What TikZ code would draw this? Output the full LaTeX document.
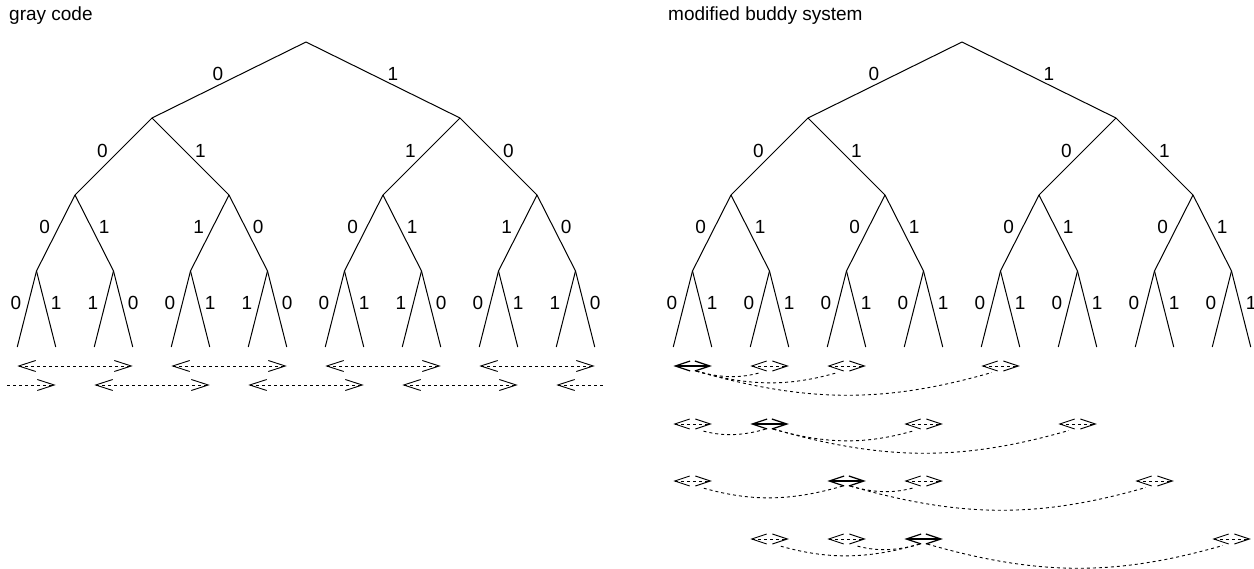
\documentclass[tikz,border=0pt]{standalone}
\usepackage{fontspec}
\setmainfont{Liberation Sans}
\usetikzlibrary{arrows.meta}

\begin{document}
\begin{tikzpicture}[x=1pt, y=-1pt,
    edge/.style={line width=1pt},
    lab/.style={font=\fontsize{19}{22}\selectfont, inner sep=0pt},
    lft/.style={lab, xshift=-11pt, yshift=6pt},
    rgt/.style={lab, xshift=10pt, yshift=6pt},
    title/.style={font=\fontsize{19}{22}\selectfont, anchor=base west, inner sep=0pt},
    hop/.style={line width=0.9pt, dash pattern=on 3pt off 3pt,
      {Straight Barb[length=17pt,width=11pt]}-{Straight Barb[length=17pt,width=11pt]}},
    hopin/.style={line width=0.9pt, dash pattern=on 3pt off 3pt,
      -{Straight Barb[length=17pt,width=11pt]}},
    hopout/.style={line width=0.9pt, dash pattern=on 3pt off 3pt,
      {Straight Barb[length=17pt,width=11pt]}-},
    pair/.style={line width=0.9pt, dash pattern=on 3pt off 3pt,
      {Straight Barb[length=15pt,width=10pt]}-{Straight Barb[length=15pt,width=10pt]}},
    mine/.style={line width=1.2pt,
      {Straight Barb[length=15pt,width=10pt]}-{Straight Barb[length=15pt,width=10pt]}},
    link/.style={line width=0.9pt, dash pattern=on 3pt off 3pt}
  ]
  \useasboundingbox (0,0) rectangle (1254,569);

  \node[title] (gtitle) at (9,21) {gray code};
  \node[title] (btitle) at (668,21) {modified buddy system};

  % tree points
  \foreach \t/\rx in {g/306, b/962} {
    \coordinate (\t-0-0) at (\rx,42);
    \foreach \lv/\y in {1/118, 2/195, 3/271, 4/347} {
      \pgfmathtruncatemacro\n{2^\lv-1}
      \foreach \i in {0,...,\n}
        \coordinate (\t-\lv-\i) at ({\rx-308+(\i+0.5)*616/2^\lv},\y);
    }
  }

  % edges with their bits
  \foreach \t in {g,b} {
    \foreach \lv in {1,...,4} {
      \pgfmathtruncatemacro\up{\lv-1}
      \pgfmathtruncatemacro\n{2^\lv-1}
      \foreach \i in {0,...,\n} {
        \pgfmathtruncatemacro\p{div(\i,2)}
        \if g\t \pgfmathtruncatemacro\bit{mod(div(\i+1,2),2)}
        \else \pgfmathtruncatemacro\bit{mod(\i,2)}\fi
        \ifodd\i \def\where{rgt}\else\def\where{lft}\fi
        \draw[edge] (\t-\up-\p) -- node[\where] {\bit} (\t-\lv-\i);
      }
    }
  }

  % gray code neighbours
  \coordinate (grow1) at (0,366);
  \coordinate (grow2) at (0,385);
  \coordinate (gwrapL) at (7,385);
  \coordinate (gwrapR) at (605,385);
  \foreach \k in {0,4,8,12} {
    \pgfmathtruncatemacro\e{\k+3}
    \draw[hop] (g-4-\k |- grow1) -- (g-4-\e |- grow1);
  }
  \foreach \k in {2,6,10} {
    \pgfmathtruncatemacro\e{\k+3}
    \draw[hop] (g-4-\k |- grow2) -- (g-4-\e |- grow2);
  }
  \draw[hopout] (g-4-14 |- grow2) -- (gwrapR);
  \draw[hopin] (gwrapL) -- (g-4-1 |- grow2);

  % buddies
  \foreach \r/\y/\s/\ta/\tb/\tc in
      {0/366/0/1/2/4, 1/424/1/0/3/5, 2/481/2/3/0/6, 3/539/3/2/1/7} {
    \coordinate (brow\r) at (0,\y);
    \coordinate (bmid\r) at (0,\y+4);
    \pgfmathtruncatemacro\sa{2*\s}
    \pgfmathtruncatemacro\sb{2*\s+1}
    \draw[mine] (b-4-\sa |- brow\r) -- (b-4-\sb |- brow\r);
    \foreach \j in {\ta,\tb,\tc} {
      \pgfmathtruncatemacro\ua{2*\j}
      \pgfmathtruncatemacro\ub{2*\j+1}
      \draw[pair] (b-4-\ua |- brow\r) -- (b-4-\ub |- brow\r);
      \ifnum\j>\s
        \draw[link, shorten <=4pt, shorten >=9pt]
          (b-3-\s |- bmid\r) to[bend right=16] (b-3-\j |- bmid\r);
      \else
        \draw[link, shorten <=4pt, shorten >=9pt]
          (b-3-\s |- bmid\r) to[bend left=16] (b-3-\j |- bmid\r);
      \fi
    }
  }
\end{tikzpicture}
\end{document}
